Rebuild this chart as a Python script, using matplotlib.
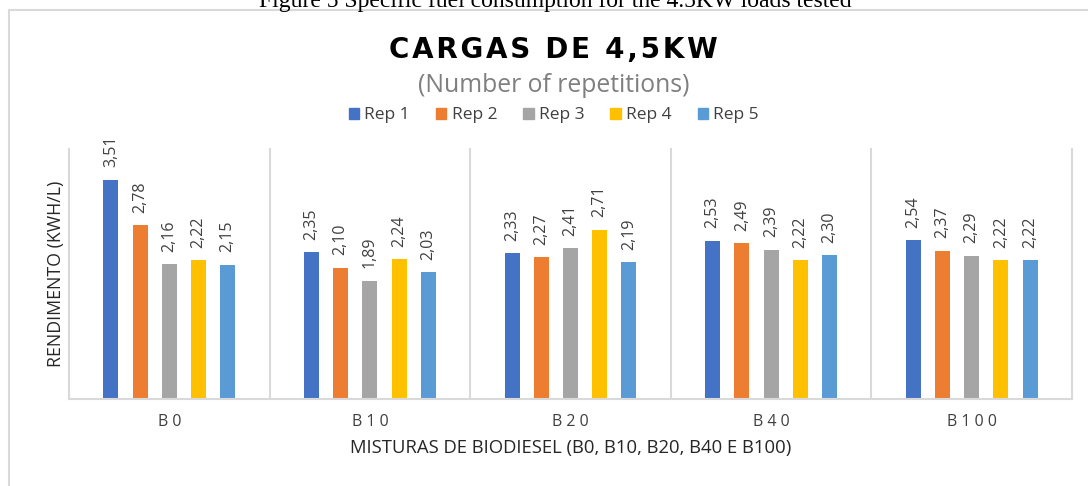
import matplotlib
matplotlib.use("Agg")
import matplotlib.pyplot as plt
from matplotlib.patches import Patch, Rectangle
import numpy as np

# DADOS

misturas = ["B0", "B10", "B20", "B40", "B100"]
series = ["Rep 1", "Rep 2", "Rep 3", "Rep 4", "Rep 5"]
rep1 = [3.51, 2.35, 2.33, 2.53, 2.54]
rep2 = [2.78, 2.10, 2.27, 2.49, 2.37]
rep3 = [2.16, 1.89, 2.41, 2.39, 2.29]
rep4 = [2.22, 2.24, 2.71, 2.22, 2.22]
rep5 = [2.15, 2.03, 2.19, 2.30, 2.22]
cores = ["#4472C4", "#ED7D31", "#A5A5A5", "#FFC000", "#5B9BD5"]

valores = [rep1, rep2, rep3, rep4, rep5]

# FIGURA

plt.rcParams["font.family"] = ["Open Sans", "DejaVu Sans"]

fig = plt.figure(figsize=(10.88, 4.86), dpi=100)
ax = fig.add_axes([0.0634, 0.179, 0.9219, 0.5144])

x = np.arange(len(misturas))
passo = 0.1456
largura = 0.075

for j, (nome, vals) in enumerate(zip(series, valores)):
    pos = x + (j - 2) * passo
    barras = ax.bar(pos, vals, width=largura, color=cores[j], label=nome)
    for b, v in zip(barras, vals):
        ax.annotate(
            f"{v:.2f}".replace(".", ","),
            (b.get_x() + b.get_width() / 2, v),
            xytext=(0, 9),
            textcoords="offset points",
            rotation=90,
            ha="center",
            va="bottom",
            fontsize=11.5,
            color="#404040",
        )

ax.set_xlim(-0.5, len(misturas) - 0.5)
ax.set_ylim(0, 4)

# linhas verticais entre categorias
for limite in np.arange(-0.5, len(misturas), 1.0):
    ax.axvline(limite, color="#D9D9D9", lw=1.5, clip_on=False, zorder=0)

for lado in ["top", "right", "left"]:
    ax.spines[lado].set_visible(False)
ax.spines["bottom"].set_color("#D9D9D9")
ax.spines["bottom"].set_linewidth(1.5)

ax.set_yticks([])
ax.set_xticks(x)
ax.set_xticklabels([" ".join(m) for m in misturas], fontsize=11.5, color="#404040")
ax.tick_params(axis="x", length=0, pad=11)

ax.set_xlabel(
    "MISTURAS DE BIODIESEL (B0, B10, B20, B40 E B100)",
    fontsize=13.3,
    color="#262626",
    labelpad=6,
)
ax.set_ylabel("RENDIMENTO (KWH/L)", fontsize=12.8, color="#262626", labelpad=3)

# TITULOS

fig.text(0.51, 1 - 7 / 486,
         "Figure 5 Specific fuel consumption for the 4.5KW loads tested",
         family="Liberation Serif", fontsize=17, ha="center", va="baseline")

fig.text(0.509, 0.897, "\u200a".join("CARGAS DE 4,5KW"), family="DejaVu Sans",
         fontweight="bold", fontsize=20, ha="center", va="center", color="#000000")
fig.text(0.509, 0.825, "(Number of repetitions)", fontsize=17.8,
         ha="center", va="center", color="#7F7F7F")

handles = [Patch(color=c, label=s) for c, s in zip(cores, series)]
fig.legend(handles=handles, loc="center", bbox_to_anchor=(0.509, 0.763),
           ncol=5, frameon=False, fontsize=12.5, handlelength=0.6,
           handleheight=0.6, handletextpad=0.3, columnspacing=1.5,
           labelcolor="#404040")

# moldura
fig.add_artist(Rectangle((9 / 1088, -0.05), 1.1, 1.05 - 10 / 486,
                         transform=fig.transFigure, fill=False,
                         edgecolor="#D9D9D9", lw=1.5))

fig.savefig("out.png", dpi=100)
